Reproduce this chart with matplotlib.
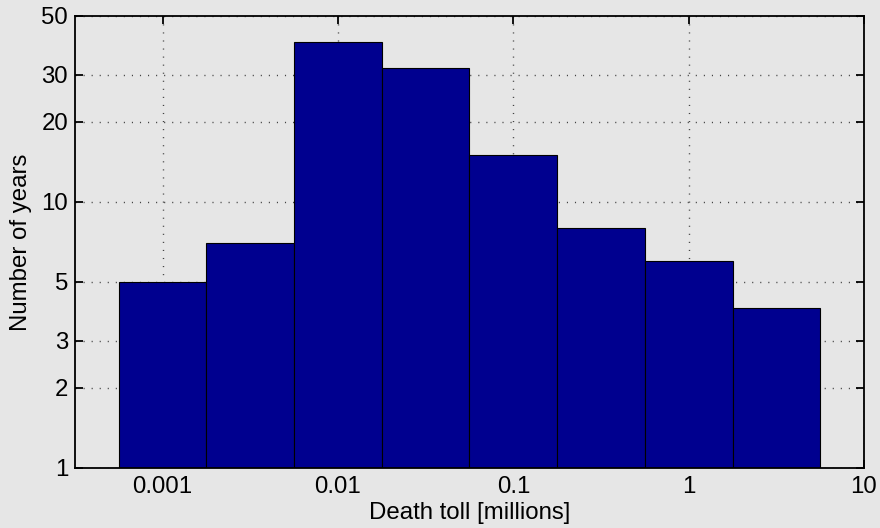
import matplotlib
matplotlib.use("Agg")
import matplotlib.pyplot as plt
import numpy as np

# Data
bin_edges = [10**-3.25, 10**-2.75, 10**-2.25, 10**-1.75, 10**-1.25, 10**-0.75, 10**-0.25, 10**0.25, 10**0.75]
counts = [5, 7, 40, 32, 15, 8, 6, 4]
x_ticks = [0.001, 0.01, 0.1, 1, 10]
x_ticklabels = ["0.001", "0.01", "0.1", "1", "10"]
y_ticks = [1, 2, 3, 5, 10, 20, 30, 50]
y_ticklabels = ["1", "2", "3", "5", "10", "20", "30", "50"]

plt.rcParams['font.family'] = ['Liberation Sans', 'DejaVu Sans']
bg = '#e6e6e6'
fs = 17.3

fig = plt.figure(figsize=(8.8, 5.28), dpi=100, facecolor=bg)
ax = fig.add_axes([75/880, 1-467.7/528, (864-75)/880, (467.7-16)/528])
ax.set_facecolor(bg)
ax.set_xscale('log')
ax.set_yscale('log')

lefts = np.array(bin_edges[:-1])
rights = np.array(bin_edges[1:])
ax.bar(lefts, counts, width=rights-lefts, align='edge', color='#00008f',
       edgecolor='black', linewidth=0.8, zorder=3)

ax.set_xlim(10**-3.5, 10)
ax.set_ylim(1, 50)
ax.set_xticks(x_ticks)
ax.set_xticklabels(x_ticklabels)
ax.set_yticks(y_ticks)
ax.set_yticklabels(y_ticklabels)
ax.minorticks_off()

ax.grid(True, which='major', color='#444444', linestyle=(0, (0.8, 5)), linewidth=1.0, zorder=1)
ax.set_axisbelow(True)

ax.tick_params(direction='in', length=6, width=1.3, labelsize=fs, top=True, right=True,
               colors='black')
ax.tick_params(axis='x', pad=6)
ax.tick_params(axis='y', pad=5)
for s in ax.spines.values():
    s.set_linewidth(1.3)
    s.set_zorder(5)

ax.set_xlabel("Death toll [millions]", fontsize=fs, labelpad=2.5)
ax.set_ylabel("Number of years", fontsize=fs, labelpad=7)

fig.savefig("out.png", dpi=100, facecolor=bg)
